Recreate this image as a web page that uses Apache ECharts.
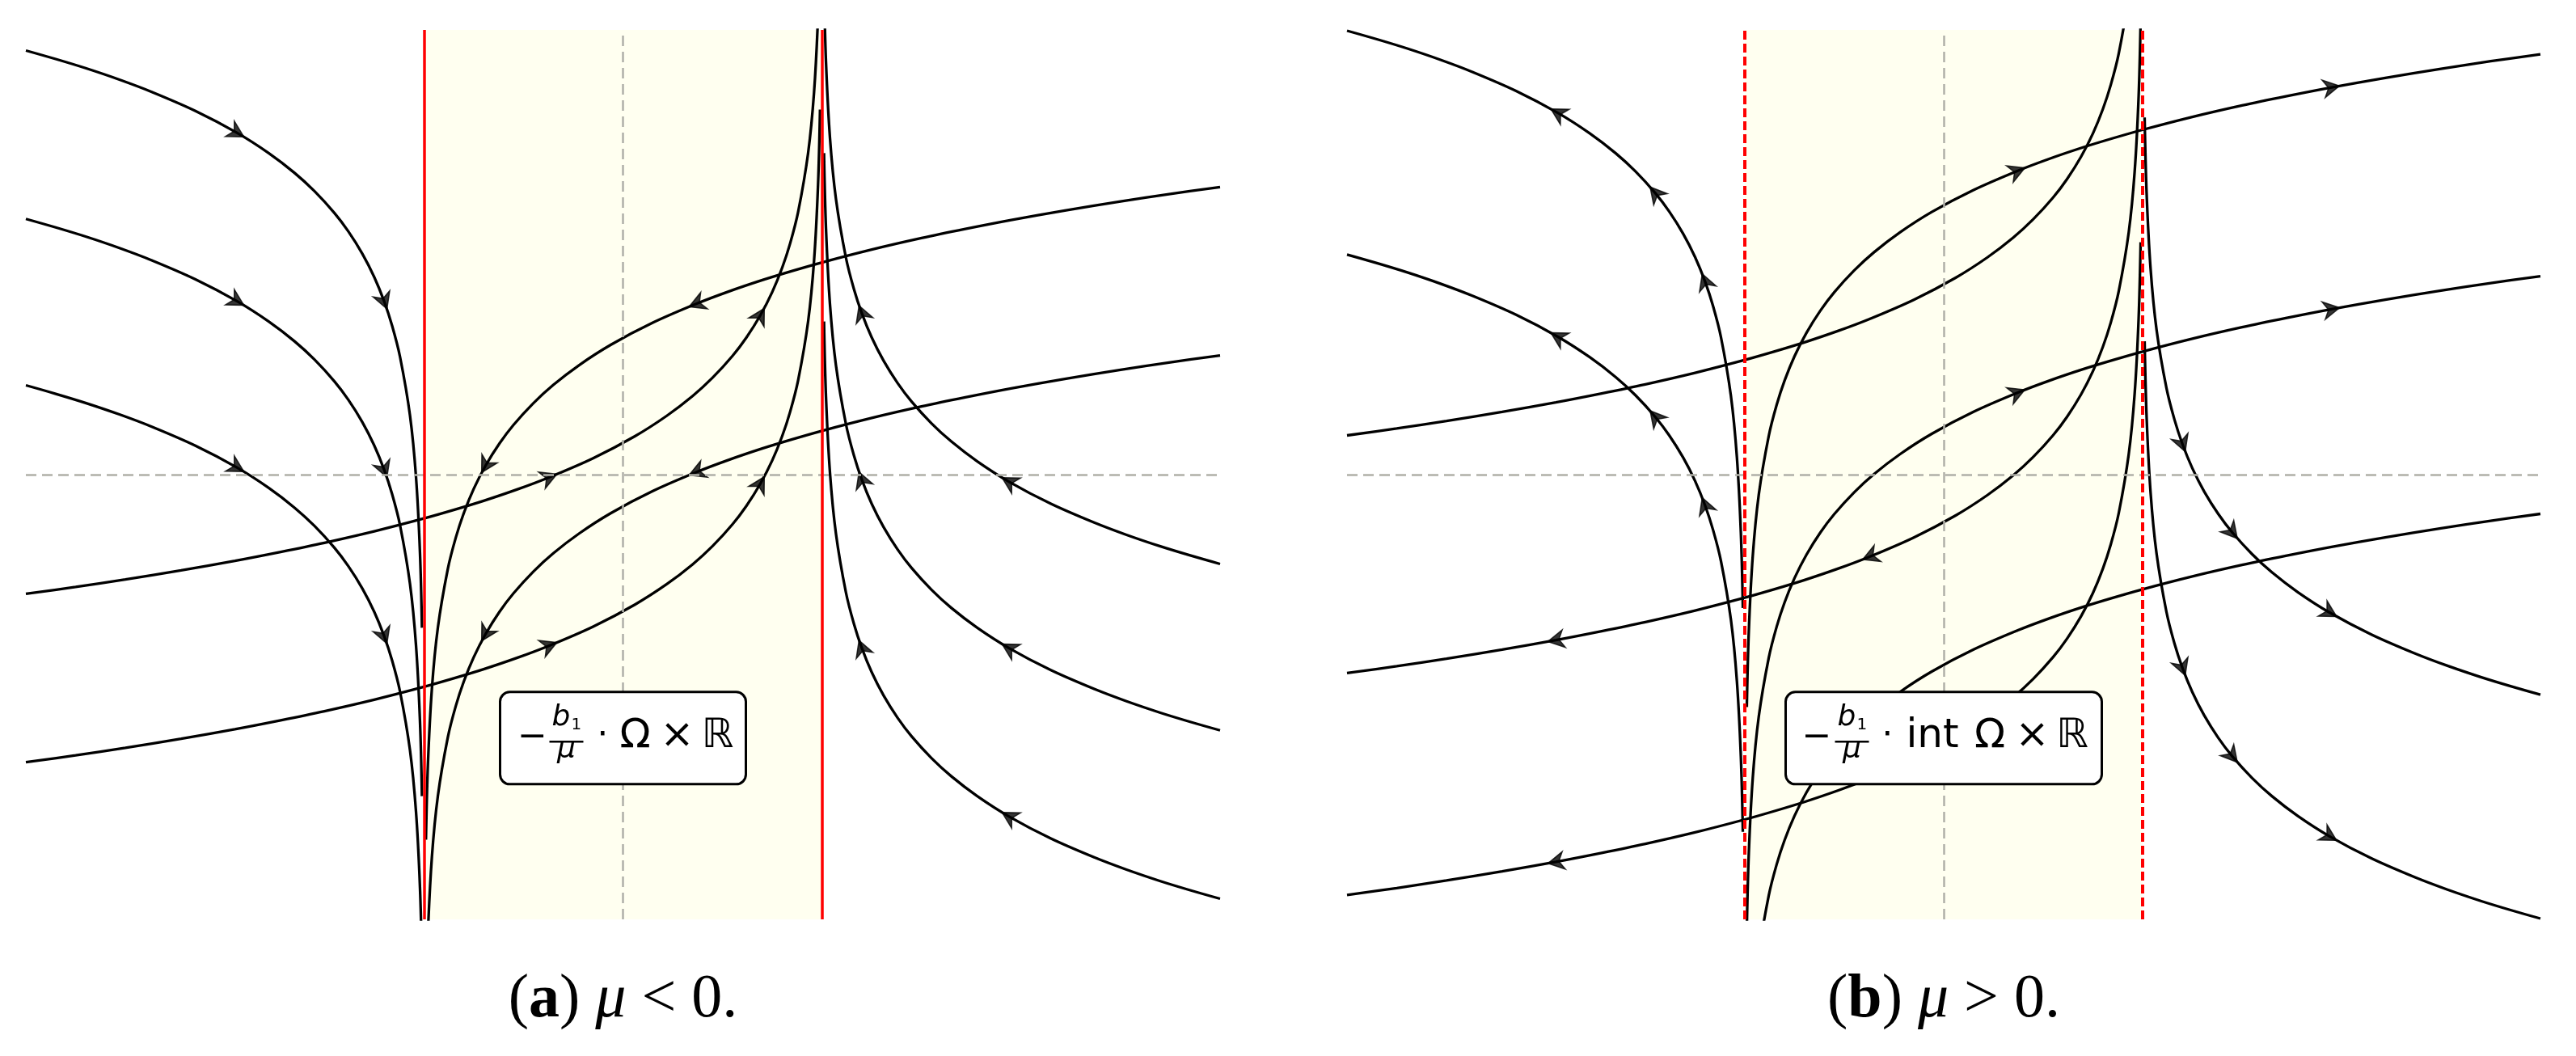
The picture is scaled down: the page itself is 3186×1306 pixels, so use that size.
<!DOCTYPE html>
<html><head><meta charset="utf-8">
<script src="https://cdn.jsdelivr.net/npm/echarts/dist/echarts.min.js"></script>
<style>html,body{margin:0;padding:0;background:#fff}#c{width:3186px;height:1306px}</style>
</head><body><div id="c"></div>
<script>
// ---- sample abscissae (x in units of the strip half-width; red lines at x = -1 and x = 1) ----
const xLeftSide      = [-1.01, -1.02, -1.04, -1.07, -1.12, -1.16, -1.2, -1.25, -1.31, -1.38, -1.45, -1.55, -1.65, -1.78, -1.94, -2.15, -2.37, -2.53, -2.7, -2.85, -3.0];
const xRightSide     = [1.01, 1.02, 1.04, 1.07, 1.12, 1.16, 1.2, 1.25, 1.31, 1.38, 1.45, 1.55, 1.65, 1.78, 1.94, 2.15, 2.37, 2.53, 2.7, 2.85, 3.0];
const xFromLeftLine  = [-0.99, -0.98, -0.96, -0.93, -0.88, -0.84, -0.8, -0.75, -0.69, -0.62, -0.55, -0.45, -0.35, -0.22, -0.06, 0.15, 0.37, 0.53, 0.7, 0.85, 1.0, 1.25, 1.5, 1.72, 1.95, 2.22, 2.5, 2.75, 3.0];
const xFromRightLine = [0.99, 0.98, 0.96, 0.93, 0.88, 0.84, 0.8, 0.75, 0.69, 0.62, 0.55, 0.45, 0.35, 0.22, 0.06, -0.15, -0.37, -0.53, -0.7, -0.85, -1.0, -1.25, -1.5, -1.72, -1.95, -2.22, -2.5, -2.75, -3.0];

// ---- panel (a) mu < 0 : trajectory ordinates ----
const aLeft1  = [-0.773, -0.392, -0.010, 0.298, 0.594, 0.752, 0.875, 0.998, 1.116, 1.228, 1.321, 1.431, 1.523, 1.623, 1.726, 1.837, 1.933, 1.994, 2.052, 2.098, 2.141];
const aLeft2  = [-1.623, -1.242, -0.860, -0.552, -0.256, -0.098, 0.025, 0.148, 0.266, 0.378, 0.471, 0.581, 0.673, 0.773, 0.876, 0.987, 1.083, 1.144, 1.202, 1.248, 1.291];
const aLeft3  = [-2.463, -2.082, -1.700, -1.392, -1.096, -0.938, -0.815, -0.692, -0.574, -0.462, -0.369, -0.259, -0.167, -0.067, 0.036, 0.147, 0.243, 0.304, 0.362, 0.408, 0.451];
const aRight1 = [0.773, 0.392, 0.010, -0.298, -0.594, -0.752, -0.875, -0.998, -1.116, -1.228, -1.321, -1.431, -1.523, -1.623, -1.726, -1.837, -1.933, -1.994, -2.052, -2.098, -2.141];
const aRight2 = [1.623, 1.242, 0.860, 0.552, 0.256, 0.098, -0.025, -0.148, -0.266, -0.378, -0.471, -0.581, -0.673, -0.773, -0.876, -0.987, -1.083, -1.144, -1.202, -1.248, -1.291];
const aRight3 = [2.463, 2.082, 1.700, 1.392, 1.096, 0.938, 0.815, 0.692, 0.574, 0.462, 0.369, 0.259, 0.167, 0.067, -0.036, -0.147, -0.243, -0.304, -0.362, -0.408, -0.451];
const aUp1    = [2.693, 2.312, 1.930, 1.622, 1.326, 1.168, 1.045, 0.922, 0.804, 0.692, 0.599, 0.489, 0.397, 0.297, 0.194, 0.083, -0.013, -0.074, -0.132, -0.178, -0.221, -0.286, -0.344, -0.390, -0.435, -0.483, -0.529, -0.567, -0.602];
const aUp2    = [1.843, 1.462, 1.080, 0.772, 0.476, 0.318, 0.195, 0.072, -0.046, -0.158, -0.251, -0.361, -0.453, -0.553, -0.656, -0.767, -0.863, -0.924, -0.982, -1.028, -1.071, -1.136, -1.194, -1.240, -1.285, -1.333, -1.379, -1.417, -1.452];
const aDown1  = [-1.843, -1.462, -1.080, -0.772, -0.476, -0.318, -0.195, -0.072, 0.046, 0.158, 0.251, 0.361, 0.453, 0.553, 0.656, 0.767, 0.863, 0.924, 0.982, 1.028, 1.071, 1.136, 1.194, 1.240, 1.285, 1.333, 1.379, 1.417, 1.452];
const aDown2  = [-2.693, -2.312, -1.930, -1.622, -1.326, -1.168, -1.045, -0.922, -0.804, -0.692, -0.599, -0.489, -0.397, -0.297, -0.194, -0.083, 0.013, 0.074, 0.132, 0.178, 0.221, 0.286, 0.344, 0.390, 0.435, 0.483, 0.529, 0.567, 0.602];

// ---- panel (b) mu > 0 : trajectory ordinates ----
const bLeft1  = [-0.673, -0.292, 0.090, 0.398, 0.694, 0.852, 0.975, 1.098, 1.216, 1.328, 1.421, 1.531, 1.623, 1.723, 1.826, 1.937, 2.033, 2.094, 2.152, 2.198, 2.241];
const bLeft2  = [-1.803, -1.422, -1.040, -0.732, -0.436, -0.278, -0.155, -0.032, 0.086, 0.198, 0.291, 0.401, 0.493, 0.593, 0.696, 0.807, 0.903, 0.964, 1.022, 1.068, 1.111];
const bRight1 = [0.673, 0.292, -0.090, -0.398, -0.694, -0.852, -0.975, -1.098, -1.216, -1.328, -1.421, -1.531, -1.623, -1.723, -1.826, -1.937, -2.033, -2.094, -2.152, -2.198, -2.241];
const bRight2 = [1.803, 1.422, 1.040, 0.732, 0.436, 0.278, 0.155, 0.032, -0.086, -0.198, -0.291, -0.401, -0.493, -0.593, -0.696, -0.807, -0.903, -0.964, -1.022, -1.068, -1.111];
const bDown1  = [-1.173, -0.792, -0.410, -0.102, 0.194, 0.352, 0.475, 0.598, 0.716, 0.828, 0.921, 1.031, 1.123, 1.223, 1.326, 1.437, 1.533, 1.594, 1.652, 1.698, 1.741, 1.806, 1.864, 1.910, 1.955, 2.003, 2.049, 2.087, 2.122];
const bDown2  = [-2.293, -1.912, -1.530, -1.222, -0.926, -0.768, -0.645, -0.522, -0.404, -0.292, -0.199, -0.089, 0.003, 0.103, 0.206, 0.317, 0.413, 0.474, 0.532, 0.578, 0.621, 0.686, 0.744, 0.790, 0.835, 0.883, 0.929, 0.967, 1.002];
const bDown3  = [-3.493, -3.112, -2.730, -2.422, -2.126, -1.968, -1.845, -1.722, -1.604, -1.492, -1.399, -1.289, -1.197, -1.097, -0.994, -0.883, -0.787, -0.726, -0.668, -0.622, -0.579, -0.514, -0.456, -0.410, -0.365, -0.317, -0.271, -0.233, -0.198];
const bUp1    = [3.493, 3.112, 2.730, 2.422, 2.126, 1.968, 1.845, 1.722, 1.604, 1.492, 1.399, 1.289, 1.197, 1.097, 0.994, 0.883, 0.787, 0.726, 0.668, 0.622, 0.579, 0.514, 0.456, 0.410, 0.365, 0.317, 0.271, 0.233, 0.198];
const bUp2    = [2.293, 1.912, 1.530, 1.222, 0.926, 0.768, 0.645, 0.522, 0.404, 0.292, 0.199, 0.089, -0.003, -0.103, -0.206, -0.317, -0.413, -0.474, -0.532, -0.578, -0.621, -0.686, -0.744, -0.790, -0.835, -0.883, -0.929, -0.967, -1.002];
const bUp3    = [1.173, 0.792, 0.410, 0.102, -0.194, -0.352, -0.475, -0.598, -0.716, -0.828, -0.921, -1.031, -1.123, -1.223, -1.326, -1.437, -1.533, -1.594, -1.652, -1.698, -1.741, -1.806, -1.864, -1.910, -1.955, -2.003, -2.049, -2.087, -2.122];

// arrow placement: sample indices carrying an arrowhead; dir -1 = flow toward the first sample
const panels = [
  [
    {x: xLeftSide, y: aLeft1, arrows: [14, 6], dir: -1},
    {x: xLeftSide, y: aLeft2, arrows: [14, 6], dir: -1},
    {x: xLeftSide, y: aLeft3, arrows: [14, 6], dir: -1},
    {x: xRightSide, y: aRight1, arrows: [14, 6], dir: -1},
    {x: xRightSide, y: aRight2, arrows: [14, 6], dir: -1},
    {x: xRightSide, y: aRight3, arrows: [14, 6], dir: -1},
    {x: xFromRightLine, y: aUp1, arrows: [16, 8], dir: -1},
    {x: xFromRightLine, y: aUp2, arrows: [16, 8], dir: -1},
    {x: xFromLeftLine, y: aDown1, arrows: [16, 8], dir: -1},
    {x: xFromLeftLine, y: aDown2, arrows: [16, 8], dir: -1}
  ],
  [
    {x: xLeftSide, y: bLeft1, arrows: [14, 10, 6], dir: 1},
    {x: xLeftSide, y: bLeft2, arrows: [14, 10, 6], dir: 1},
    {x: xRightSide, y: bRight1, arrows: [14, 10, 6], dir: 1},
    {x: xRightSide, y: bRight2, arrows: [14, 10, 6], dir: 1},
    {x: xFromLeftLine, y: bDown1, arrows: [16, 24], dir: 1},
    {x: xFromLeftLine, y: bDown2, arrows: [16, 24], dir: 1},
    {x: xFromLeftLine, y: bDown3, arrows: [], dir: 1},
    {x: xFromRightLine, y: bUp1, arrows: [], dir: 1},
    {x: xFromRightLine, y: bUp2, arrows: [16, 24], dir: 1},
    {x: xFromRightLine, y: bUp3, arrows: [24], dir: 1}
  ]
];

const captions = [
  '{n|(}{bb|a}{n|)} {it|μ} {n|<} {n|0.}',
  '{n|(}{bb|b}{n|)} {it|μ} {n|>} {n|0.}'
];
const boxY = -1.33;

const chart = echarts.init(document.getElementById('c'));
const grids = [
  {left: 32, top: 37, width: 1477, height: 1100},
  {left: 1666, top: 37, width: 1476, height: 1100}
];
const xAxis = grids.map((g, i) => ({type: 'value', gridIndex: i, min: -3, max: 3, show: false}));
const yAxis = grids.map((g, i) => ({type: 'value', gridIndex: i, min: -2.245, max: 2.245, show: false}));

function frame(i, redDashed) {
  return [
    {type: 'line', xAxisIndex: i, yAxisIndex: i, data: [], z: 1, silent: true,
      markArea: {silent: true, itemStyle: {color: '#fffff0'}, data: [[{xAxis: -1}, {xAxis: 1}]]},
      markLine: {silent: true, symbol: ['none', 'none'], label: {show: false},
        lineStyle: {color: '#b0b0a8', width: 2.5, type: [13, 7]},
        data: [{xAxis: 0}, {yAxis: 0}]}},
    {type: 'line', xAxisIndex: i, yAxisIndex: i, data: [], z: 2, silent: true,
      markLine: {silent: true, symbol: ['none', 'none'], label: {show: false},
        lineStyle: {color: '#ff0000', width: redDashed ? 4 : 3.5, type: redDashed ? [11, 5] : 'solid'},
        data: [{xAxis: -1}, {xAxis: 1}]}}
  ];
}

const series = [];
panels.forEach((curves, i) => {
  frame(i, i === 1).forEach(s => series.push(s));
  curves.forEach(c => series.push({
    type: 'line', xAxisIndex: i, yAxisIndex: i, z: 3, silent: true,
    data: c.x.map((x, k) => [x, c.y[k]]),
    showSymbol: false, symbol: 'none', smooth: 0.35, clip: true,
    lineStyle: {color: '#000', width: 3.3}
  }));
});

chart.setOption({animation: false, grid: grids, xAxis, yAxis, series});

// arrowheads oriented along the drawn curve
const arrowPath = 'path://M0,0 L9,16 L0,11 L-9,16 Z';
panels.forEach((curves, i) => {
  const data = [];
  curves.forEach(c => c.arrows.forEach(k => {
    const p0 = chart.convertToPixel({gridIndex: i}, [c.x[k - 1], c.y[k - 1]]);
    const p1 = chart.convertToPixel({gridIndex: i}, [c.x[k + 1], c.y[k + 1]]);
    const vx = (p1[0] - p0[0]) * c.dir, vy = (p1[1] - p0[1]) * c.dir;
    data.push({value: [c.x[k], c.y[k]], symbolRotate: Math.atan2(-vx, -vy) * 180 / Math.PI});
  }));
  series.push({type: 'scatter', xAxisIndex: i, yAxisIndex: i, z: 4, silent: true,
    symbol: arrowPath, symbolSize: [22, 20], symbolKeepAspect: false,
    itemStyle: {color: '#000', borderColor: '#000', borderWidth: 1.5}, data});
});

// annotation boxes
const F = '"DejaVu Sans"';
function t(text, x, y, size, style, align) {
  return {type: 'text', z: 100, style: {text, x, y, font: (style || '') + ' ' + size + 'px ' + F, fill: '#000',
    align: align || 'center', verticalAlign: 'middle', textAlign: align || 'center', textVerticalAlign: 'middle'}};
}
const specs = [
  {w: 304, minus: -112, bar: [-91, -49], b: -88, dot: -25, omega: 15, times: 67, R: 117},
  {w: 391, minus: -157, bar: [-134.5, -92.5], b: -131.5, dot: -69.5, int: -14, omega: 57, times: 109.5, R: 159}
];
const graphic = [];
specs.forEach((s, i) => {
  const c = chart.convertToPixel({gridIndex: i}, [0, boxY]);
  const children = [
    {type: 'rect', z: 100, shape: {x: -s.w / 2, y: -57, width: s.w, height: 114, r: 12}, style: {fill: '#fff', stroke: '#000', lineWidth: 3}},
    t('−', s.minus, 0, 44),
    {type: 'line', z: 100, shape: {x1: s.bar[0], y1: 4.5, x2: s.bar[1], y2: 4.5}, style: {stroke: '#000', lineWidth: 2.5}},
    t('b', s.b, -25, 36, 'italic', 'left'),
    t('1', s.b + 24, -16, 20, '', 'left'),
    t('μ', (s.bar[0] + s.bar[1]) / 2, 15, 36, 'italic'),
    t('⋅', s.dot, -2, 44),
    t('Ω', s.omega, -2, 50),
    t('×', s.times, -2, 50),
    t('ℝ', s.R, -2, 50, 'italic')
  ];
  if (s.int !== undefined) children.push(t('int', s.int, -2, 50));
  graphic.push({type: 'group', x: c[0], y: c[1], z: 100, children});
  const cx = chart.convertToPixel({gridIndex: i}, [0, 0])[0];
  graphic.push({type: 'text', z: 100, x: cx, y: 1237, style: {
    text: captions[i], font: '76px "Liberation Serif"', fill: '#000',
    align: 'center', verticalAlign: 'middle', textAlign: 'center', textVerticalAlign: 'middle',
    rich: {
      n: {font: '76px "Liberation Serif"', fill: '#000'},
      bb: {font: 'bold 76px "Liberation Serif"', fill: '#000'},
      it: {font: 'italic 76px "Liberation Serif"', fill: '#000'}
    }}});
});

chart.setOption({series, graphic});
</script></body></html>
